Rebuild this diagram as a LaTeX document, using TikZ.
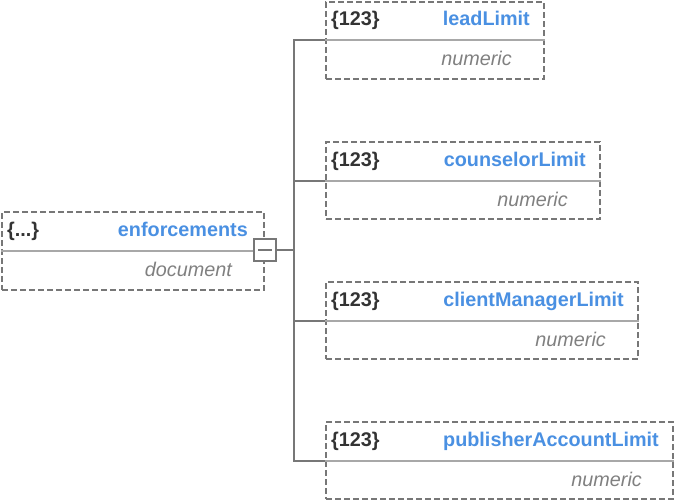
\documentclass[tikz,border=0pt]{standalone}
\usepackage{fontspec}
\setmainfont{Liberation Sans}
\definecolor{bordergray}{HTML}{777777}
\definecolor{divgray}{HTML}{A8A8A8}
\definecolor{namblue}{HTML}{4A90E2}
\definecolor{typedark}{HTML}{333333}
\definecolor{subgray}{HTML}{808080}
\begin{document}
\begin{tikzpicture}[x=1pt,y=-1pt,
  box/.style={draw=bordergray, line width=2pt, dash pattern=on 6pt off 3pt,
    minimum height=77pt, inner sep=0pt, anchor=north west},
  divider/.style={draw=divgray, line width=2pt},
  conn/.style={draw=bordergray, line width=2pt},
  nametext/.style={font=\fontsize{19.8}{22}\selectfont\bfseries, text=namblue, inner sep=0pt, anchor=base east},
  typetext/.style={font=\fontsize{19.8}{22}\selectfont\bfseries, text=typedark, inner sep=0pt, anchor=base west},
  subtext/.style={font=\fontsize{19.8}{22}\selectfont\itshape, text=subgray, inner sep=0pt, anchor=base east},
  minusbox/.style={draw=bordergray, line width=2pt, fill=white, minimum size=22pt, inner sep=0pt}
]
\useasboundingbox (0,0) rectangle (674,500);

% root node
\node[box, minimum width=262pt, minimum height=78pt] (root) at (1,211) {};
\draw[divider] (root.west) -- (root.east);
\node[typetext] (roott) at (7,236) {\{...\}};
\node[nametext] (rootn) at (248,236) {enforcements};
\node[subtext] (roots) at (232,276) {document};

% children
\node[box, minimum width=218pt] (b1) at (325,1) {};
\draw[divider] (b1.west) -- (b1.east);
\node[typetext] (t1) at (331,26) {\{123\}};
\node[nametext] (n1) at (530,26) {leadLimit};
\node[subtext] (s1) at (512,66) {numeric};

\node[box, minimum width=274pt] (b2) at (325,141) {};
\draw[divider] (b2.west) -- (b2.east);
\node[typetext] (t2) at (331,166) {\{123\}};
\node[nametext] (n2) at (586,166) {counselorLimit};
\node[subtext] (s2) at (568,206) {numeric};

\node[box, minimum width=312pt] (b3) at (325,281) {};
\draw[divider] (b3.west) -- (b3.east);
\node[typetext] (t3) at (331,306) {\{123\}};
\node[nametext] (n3) at (624,306) {clientManagerLimit};
\node[subtext] (s3) at (606,346) {numeric};

\node[box, minimum width=347pt] (b4) at (325,421) {};
\draw[divider] (b4.west) -- (b4.east);
\node[typetext] (t4) at (331,446) {\{123\}};
\node[nametext] (n4) at (659,446) {publisherAccountLimit};
\node[subtext] (s4) at (642,486) {numeric};

% toggle and connectors
\node[minusbox] (toggle) at (265,250) {};
\draw[conn] ([xshift=-7pt]toggle.center) -- ([xshift=7pt]toggle.center);
\coordinate (bus) at (294,250);
\draw[conn] (toggle.east) -- (bus);
\draw[conn] (b1.west) -| (bus) |- (b4.west);
\draw[conn] (b2.west) -- (b2.west -| bus);
\draw[conn] (b3.west) -- (b3.west -| bus);
\end{tikzpicture}
\end{document}
